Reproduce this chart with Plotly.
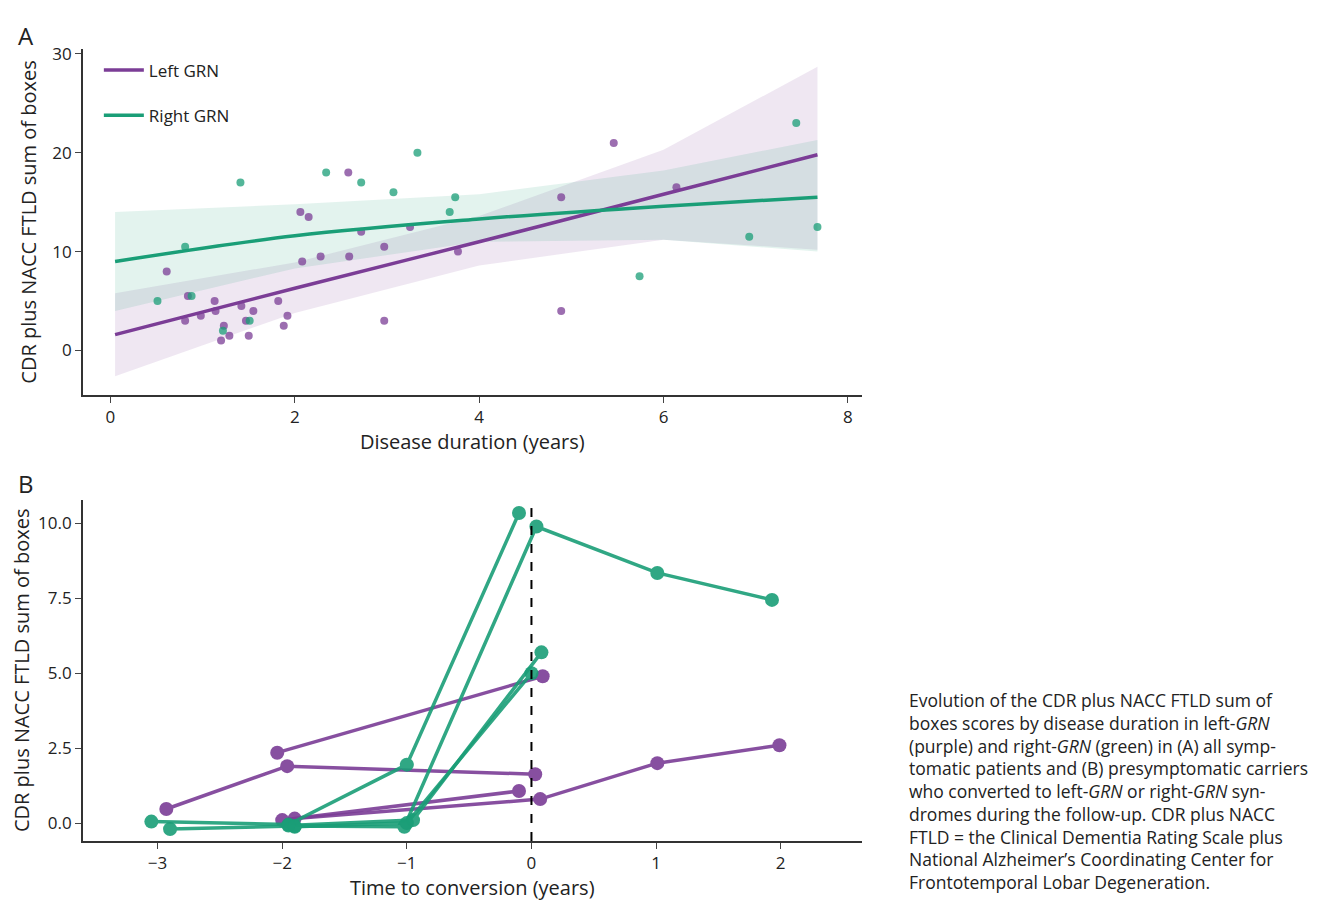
import plotly.graph_objects as go

PURPLE = "#7b3d96"
GREEN = "#1a9e77"

# Panel A: scatter points (disease duration, CDR plus NACC FTLD SB)
left_x = [0.61, 0.81, 0.84, 0.98, 1.13, 1.14, 1.20, 1.23, 1.29, 1.42, 1.47, 1.50, 1.55, 1.82, 1.88, 1.92,
          2.06, 2.08, 2.15, 2.28, 2.58, 2.59, 2.72, 2.97, 2.97, 3.25, 3.77, 4.89, 4.89, 5.46, 6.14]
left_y = [8.0, 3.0, 5.5, 3.5, 5.0, 4.0, 1.0, 2.5, 1.5, 4.5, 3.0, 1.5, 4.0, 5.0, 2.5, 3.5,
          14.0, 9.0, 13.5, 9.5, 18.0, 9.5, 12.0, 3.0, 10.5, 12.5, 10.0, 4.0, 15.5, 21.0, 16.5]
right_x = [0.51, 0.81, 0.88, 1.22, 1.51, 1.41, 2.34, 2.72, 3.07, 3.33, 3.68, 3.74, 5.74, 6.93, 7.44, 7.67]
right_y = [5.0, 10.5, 5.5, 2.0, 3.0, 17.0, 18.0, 17.0, 16.0, 20.0, 14.0, 15.5, 7.5, 11.5, 23.0, 12.5]

# fitted lines and confidence bands
fit_x = [0.05, 2.0, 4.0, 6.0, 7.67]
left_fit = [1.6, 6.3, 11.0, 15.8, 19.8]
left_lo = [-2.6, 3.8, 8.6, 11.2, 10.2]
left_hi = [5.8, 8.9, 13.6, 20.3, 28.7]
right_fit = [9.0, 11.6, 13.3, 14.6, 15.5]
right_lo = [4.0, 8.3, 11.0, 11.2, 10.0]
right_hi = [14.0, 14.8, 15.8, 18.2, 21.3]

# Panel B: individual trajectories (time to conversion, CDR plus NACC FTLD SB)
left_traj = [
    ([-2.93, -1.96, 0.03], [0.47, 1.90, 1.63]),
    ([-2.04, 0.09], [2.35, 4.90]),
    ([-2.00, -0.10], [0.10, 1.07]),
    ([-1.90, 0.07, 1.01, 1.99], [0.15, 0.80, 2.00, 2.60]),
]
right_traj = [
    ([-3.05, -1.95, -1.00, -0.10], [0.05, -0.05, 1.95, 10.35]),
    ([-2.90, -1.90, -1.02, 0.04, 1.01, 1.93], [-0.20, -0.10, -0.12, 9.90, 8.35, 7.45]),
    ([-1.95, -0.95, 0.08], [-0.08, 0.10, 5.70]),
    ([-1.90, -1.00, 0.00], [-0.12, 0.00, 5.00]),
]

fig = go.Figure()

def band(x, lo, hi, color, xa, ya):
    fig.add_trace(go.Scatter(x=x + x[::-1], y=hi + lo[::-1], mode="lines", fill="toself", fillcolor=color,
                             line=dict(width=0), hoverinfo="skip", showlegend=False, xaxis=xa, yaxis=ya))

band(fit_x, left_lo, left_hi, "rgba(123,61,150,0.12)", "x", "y")
band(fit_x, right_lo, right_hi, "rgba(26,158,119,0.12)", "x", "y")

fig.add_trace(go.Scatter(x=left_x, y=left_y, mode="markers", marker=dict(color=PURPLE, size=8, opacity=0.75),
                         showlegend=False, xaxis="x", yaxis="y"))
fig.add_trace(go.Scatter(x=right_x, y=right_y, mode="markers", marker=dict(color=GREEN, size=8, opacity=0.75),
                         showlegend=False, xaxis="x", yaxis="y"))
fig.add_trace(go.Scatter(x=fit_x, y=left_fit, mode="lines", line=dict(color=PURPLE, width=3.5, shape="spline"),
                         name="Left GRN", legendgroup="l", xaxis="x", yaxis="y"))
fig.add_trace(go.Scatter(x=fit_x, y=right_fit, mode="lines", line=dict(color=GREEN, width=3.5, shape="spline"),
                         name="Right GRN", legendgroup="r", xaxis="x", yaxis="y"))

for xs, ys in left_traj:
    fig.add_trace(go.Scatter(x=xs, y=ys, mode="lines+markers", line=dict(color=PURPLE, width=3.5),
                             marker=dict(size=14), opacity=0.9, showlegend=False, xaxis="x2", yaxis="y2"))
for xs, ys in right_traj:
    fig.add_trace(go.Scatter(x=xs, y=ys, mode="lines+markers", line=dict(color=GREEN, width=3.5),
                             marker=dict(size=14), opacity=0.9, showlegend=False, xaxis="x2", yaxis="y2"))

fig.add_shape(type="line", x0=0, x1=0, y0=0, y1=1, xref="x2", yref="y2 domain",
              line=dict(color="black", width=2, dash="dash"))

axis = dict(showline=True, linecolor="#333", linewidth=1.5, ticks="outside", ticklen=6, showgrid=False,
            zeroline=False, tickfont=dict(size=17), title_font=dict(size=20))
ytitle = "CDR plus NACC FTLD sum of boxes"

fig.update_layout(
    width=1336, height=901, plot_bgcolor="white", paper_bgcolor="white",
    font=dict(family="Open Sans", color="#222"),
    margin=dict(l=0, r=0, t=0, b=0),
    xaxis=dict(axis, domain=[0.056, 0.639], range=[-0.3, 8.15], tickvals=[0, 2, 4, 6, 8],
               title=dict(text="Disease duration (years)", standoff=6), anchor="y"),
    yaxis=dict(axis, domain=[0.575, 0.962], range=[-4.5, 30.5], tickvals=[0, 10, 20, 30],
               title=dict(text=ytitle, standoff=10), anchor="x"),
    xaxis2=dict(axis, domain=[0.056, 0.639], range=[-3.6, 2.65], tickvals=[-3, -2, -1, 0, 1, 2],
                title=dict(text="Time to conversion (years)", standoff=2), anchor="y2"),
    yaxis2=dict(axis, domain=[0.076, 0.458], range=[-0.6, 10.8], tickvals=[0, 2.5, 5, 7.5, 10],
                tickformat=".1f", title=dict(text=ytitle, standoff=10), anchor="x2"),
    legend=dict(x=0.068, y=0.958, xanchor="left", yanchor="top", font=dict(size=17),
                bgcolor="rgba(0,0,0,0)", tracegroupgap=20, itemwidth=40),
    annotations=[
        dict(text="A", x=0.006, y=0.998, xref="paper", yref="paper", showarrow=False,
             xanchor="left", yanchor="top", font=dict(size=24)),
        dict(text="B", x=0.006, y=0.497, xref="paper", yref="paper", showarrow=False,
             xanchor="left", yanchor="top", font=dict(size=24)),
        dict(text="Evolution of the CDR plus NACC FTLD sum of<br>boxes scores by disease duration in left-<i>GRN</i><br>"
                  "(purple) and right-<i>GRN</i> (green) in (A) all symp-<br>tomatic patients and (B) presymptomatic carriers<br>"
                  "who converted to left-<i>GRN</i> or right-<i>GRN</i> syn-<br>dromes during the follow-up. CDR plus NACC<br>"
                  "FTLD = the Clinical Dementia Rating Scale plus<br>National Alzheimer’s Coordinating Center for<br>"
                  "Frontotemporal Lobar Degeneration.",
             x=0.673, y=0.014, xref="paper", yref="paper", showarrow=False, align="left",
             xanchor="left", yanchor="bottom", font=dict(size=17.5)),
    ],
)

fig.write_html("out.html")
